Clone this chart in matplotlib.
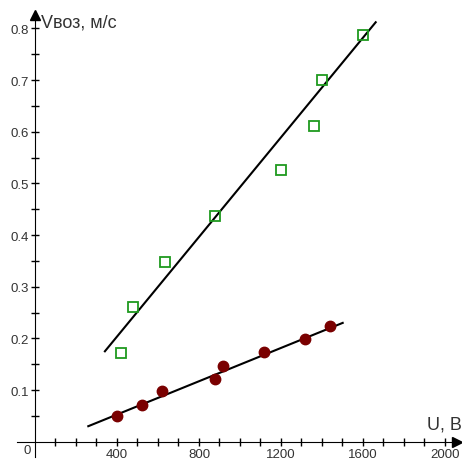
import numpy as np
import matplotlib.pyplot as plt

# Data
u_green = [420, 480, 634, 878, 1201, 1359, 1400, 1600]
v_green = [0.172, 0.261, 0.348, 0.436, 0.525, 0.611, 0.700, 0.787]
fit_green_u = [341, 1662]
fit_green_v = [0.175, 0.812]

u_red = [398, 520, 621, 878, 919, 1117, 1319, 1439]
v_red = [0.049, 0.072, 0.098, 0.122, 0.147, 0.173, 0.199, 0.224]
fit_red_u = [260, 1501]
fit_red_v = [0.030, 0.230]

x_ticks = [400, 800, 1200, 1600, 2000]
y_ticks = [0.1, 0.2, 0.3, 0.4, 0.5, 0.6, 0.7, 0.8]

plt.rcParams['font.family'] = ['Liberation Sans', 'DejaVu Sans']

fig = plt.figure(figsize=(4.62, 4.60), dpi=100)
ax = fig.add_axes([0, 0, 1, 1])
ax.set_xlim(-170.7, 2083)
ax.set_ylim(-0.0335, 0.857)

# axes through the origin
for s in ['top', 'right']:
    ax.spines[s].set_visible(False)
ax.spines['left'].set_position(('data', 0))
ax.spines['bottom'].set_position(('data', 0))
ax.spines['left'].set_bounds(-0.03, 0.82)
ax.spines['bottom'].set_bounds(-89, 2050)
ax.plot([0], [0.826], marker='^', color='black', markersize=7, clip_on=False)
ax.plot([2058], [0], marker='>', color='black', markersize=7, clip_on=False)

ax.set_xticks(x_ticks)
ax.set_xticks(np.arange(100, 2001, 100), minor=True)
ax.set_yticks(y_ticks)
ax.set_yticks(np.arange(0.05, 0.81, 0.05), minor=True)
ax.set_xticklabels([str(t) for t in x_ticks])
ax.set_yticklabels([f'{t:.1f}' for t in y_ticks])
ax.tick_params(which='both', direction='inout', length=5.5, width=1, labelsize=9.5,
               colors='black', pad=1.5)
ax.tick_params(axis='both', labelcolor='#333333')
ax.text(-20, -0.005, '0', ha='right', va='top', fontsize=9.5, color='#333333')

ax.text(28, 0.812, 'Vвоз, м/с', fontsize=13, color='#333333', ha='left', va='center')
ax.text(2082, 0.018, 'U, В', fontsize=13, color='#333333', ha='right', va='bottom')

ax.plot(fit_green_u, fit_green_v, color='black', lw=1.5)
ax.plot(fit_red_u, fit_red_v, color='black', lw=1.5)
ax.plot(u_green, v_green, 's', mfc='none', mec='#1f9a1f', mew=1.3, markersize=7)
ax.plot(u_red, v_red, 'o', color='#7a0000', markersize=7.5)

fig.savefig('out.png', dpi=100)
